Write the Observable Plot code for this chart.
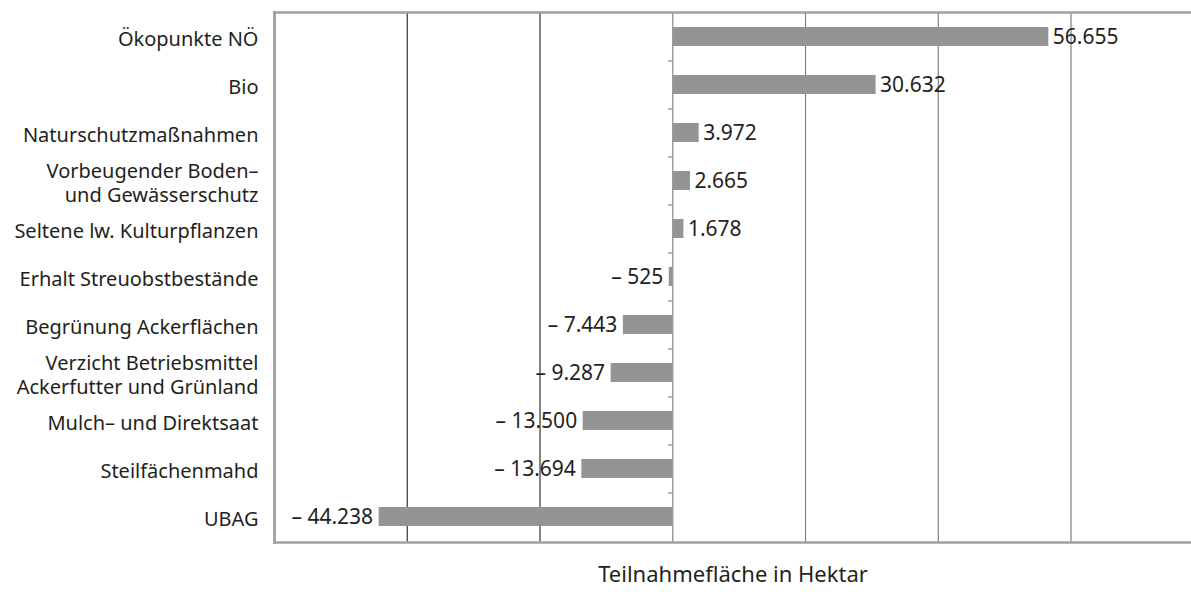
<!DOCTYPE html>
<html><head><meta charset="utf-8">
<script src="https://cdn.jsdelivr.net/npm/d3@7"></script>
<script src="https://cdn.jsdelivr.net/npm/@observablehq/plot@0.6"></script>
<style>body{margin:0;background:#fff;} svg{display:block}</style>
</head><body><div id="chart"></div>
<script>
const categories = [
  "Ökopunkte NÖ",
  "Bio",
  "Naturschutzmaßnahmen",
  "Vorbeugender Boden–\nund Gewässerschutz",
  "Seltene lw. Kulturpflanzen",
  "Erhalt Streuobstbestände",
  "Begrünung Ackerflächen",
  "Verzicht Betriebsmittel\nAckerfutter und Grünland",
  "Mulch– und Direktsaat",
  "Steilfächenmahd",
  "UBAG"
];
const values = [56655, 30632, 3972, 2665, 1678, -525, -7443, -9287, -13500, -13694, -44238];
const xTicks = [-40000, -20000, 0, 20000, 40000, 60000];
const xDomain = [-60000, 78150];
const axisLabel = "Teilnahmefläche in Hektar";

const data = categories.map((c, i) => ({name: c, value: values[i]}));
const fmt = v => (v < 0 ? "– " : "") + d3.format(",")(Math.abs(v)).replace(/,/g, ".");

const W = 1191, H = 592, mL = 274, mR = 0, mT = 12, mB = 50;
const FONT = "'Noto Sans', sans-serif";
const plotW = W - mL - mR;
const unitsPerPx = (xDomain[1] - xDomain[0]) / plotW;
const step = (H - mT - mB) / categories.length;

const chart = Plot.plot({
  width: W, height: H,
  marginLeft: mL, marginRight: mR, marginTop: mT, marginBottom: mB,
  style: {fontFamily: FONT, fontSize: "20px", color: "#231f20", background: "#fff"},
  x: {domain: xDomain, axis: null},
  y: {domain: categories, axis: null, paddingInner: 0.6, paddingOuter: 0.3},
  marks: [
    Plot.ruleX(xTicks.filter(d => d !== 0), {x: d => d, stroke: d => d < 0 ? "#333" : "#808080", strokeWidth: 1.2}),
    Plot.barX(data, {x: "value", y: "name", fill: "#949496"}),
    Plot.ruleX([0], {stroke: "#9a9a9a", strokeWidth: 1.5}),
    Plot.ruleY(data.slice(1), {y: "name", x1: 0, x2: -4 * unitsPerPx, dy: -step / 2, stroke: "#9a9a9a", strokeWidth: 1.5}),
    Plot.frame({anchor: "top", stroke: "#a0a0a2", strokeWidth: 2.5}),
    Plot.frame({anchor: "bottom", stroke: "#a0a0a2", strokeWidth: 2.5}),
    Plot.frame({anchor: "left", stroke: "#a0a0a2", strokeWidth: 2.8}),
    Plot.text(data, {y: "name", text: "name", frameAnchor: "left", dx: -16, dy: 1, textAnchor: "end", lineHeight: 1.22, fontSize: 20, fill: "#231f20"}),
    Plot.text(data.filter(d => d.value >= 0), {x: "value", y: "name", text: d => fmt(d.value), textAnchor: "start", dx: 4, fontSize: 21, fill: "#231f20"}),
    Plot.text(data.filter(d => d.value < 0), {x: "value", y: "name", text: d => fmt(d.value), textAnchor: "end", dx: -6, fontSize: 21, fill: "#231f20"}),
    Plot.text([axisLabel], {x: () => (xDomain[0] + xDomain[1]) / 2, text: d => d, frameAnchor: "bottom", dy: 39, fontSize: 22, fill: "#231f20"})
  ]
});
document.getElementById("chart").appendChild(chart);
</script>
</body></html>
